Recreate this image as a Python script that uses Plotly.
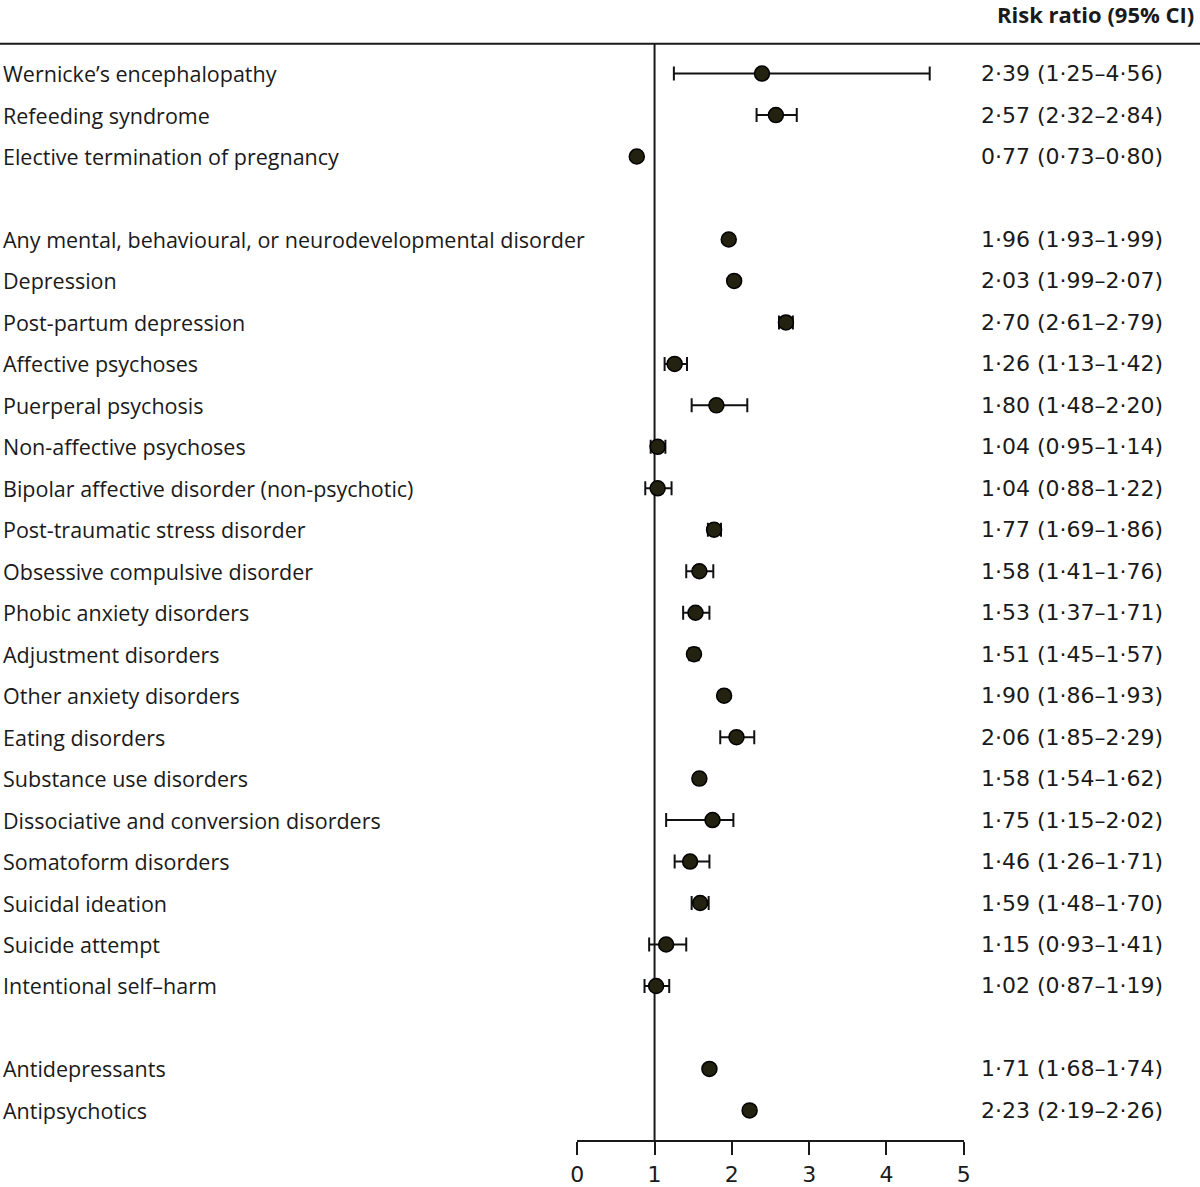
"""Forest plot of risk ratios (95% CI)."""

import plotly.graph_objects as go

LABELS = [
    "Wernicke’s encephalopathy",
    "Refeeding syndrome",
    "Elective termination of pregnancy",
    None,
    "Any mental, behavioural, or neurodevelopmental disorder",
    "Depression",
    "Post-partum depression",
    "Affective psychoses",
    "Puerperal psychosis",
    "Non-affective psychoses",
    "Bipolar affective disorder (non-psychotic)",
    "Post-traumatic stress disorder",
    "Obsessive compulsive disorder",
    "Phobic anxiety disorders",
    "Adjustment disorders",
    "Other anxiety disorders",
    "Eating disorders",
    "Substance use disorders",
    "Dissociative and conversion disorders",
    "Somatoform disorders",
    "Suicidal ideation",
    "Suicide attempt",
    "Intentional self–harm",
    None,
    "Antidepressants",
    "Antipsychotics",
]
RR = [2.39, 2.57, 0.77, None, 1.96, 2.03, 2.70, 1.26, 1.80, 1.04, 1.04, 1.77,
      1.58, 1.53, 1.51, 1.90, 2.06, 1.58, 1.75, 1.46, 1.59, 1.15, 1.02, None,
      1.71, 2.23]
LOWER = [1.25, 2.32, 0.73, None, 1.93, 1.99, 2.61, 1.13, 1.48, 0.95, 0.88, 1.69,
         1.41, 1.37, 1.45, 1.86, 1.85, 1.54, 1.15, 1.26, 1.48, 0.93, 0.87, None,
         1.68, 2.19]
UPPER = [4.56, 2.84, 0.80, None, 1.99, 2.07, 2.79, 1.42, 2.20, 1.14, 1.22, 1.86,
         1.76, 1.71, 1.57, 1.93, 2.29, 1.62, 2.02, 1.71, 1.70, 1.41, 1.19, None,
         1.74, 2.26]
X_TICKS = [0, 1, 2, 3, 4, 5]

FONT = "Open Sans"
NUM_FONT = "DejaVu Sans"
INK = "#1a1a1a"
W, H = 1200, 1187


def fmt(v):
    return f"{v:.2f}".replace(".", "·")


rows = [i for i, r in enumerate(RR) if r is not None]
xs = [RR[i] for i in rows]
plus = [UPPER[i] - RR[i] for i in rows]
minus = [RR[i] - LOWER[i] for i in rows]

fig = go.Figure()
fig.add_trace(
    go.Scatter(
        x=xs,
        y=rows,
        mode="markers",
        marker=dict(size=15, color="#23210f", line=dict(color="#000000", width=1.5)),
        error_x=dict(
            type="data",
            symmetric=False,
            array=plus,
            arrayminus=minus,
            color="#111111",
            thickness=2,
            width=7,
        ),
        showlegend=False,
        hoverinfo="skip",
    )
)

# y pixel mapping: top rule at 44 px, x axis at 1147 px
y_top_px, y_bot_px = 44, 1147
dom_bottom = (H - y_bot_px) / H
dom_top = (H - y_top_px) / H

for i in rows:
    fig.add_annotation(
        x=-6 / W, xref="paper", y=i, yref="y", text=LABELS[i],
        xanchor="left", yanchor="middle", showarrow=False,
        font=dict(family=FONT, size=21.5, color=INK),
    )
    fig.add_annotation(
        x=983 / W, xref="paper", y=i, yref="y",
        text=f"{fmt(RR[i])} ({fmt(LOWER[i])}–{fmt(UPPER[i])})",
        xanchor="left", yanchor="middle", showarrow=False,
        font=dict(family=NUM_FONT, size=22, color=INK),
    )

fig.add_annotation(
    x=1 + 3 / W, xref="paper", y=1 - 14 / H, yref="paper",
    text="<b>Risk ratio (95% CI)</b>", xanchor="right", yanchor="middle",
    showarrow=False, font=dict(family=FONT, size=22, color=INK),
)

# top rule and reference line at 1
fig.add_shape(type="line", xref="paper", yref="paper", x0=-0.01, x1=1.01,
              y0=dom_top, y1=dom_top, line=dict(color=INK, width=2))
fig.add_shape(type="line", xref="x", yref="paper", x0=1, x1=1,
              y0=dom_bottom, y1=dom_top, line=dict(color=INK, width=2),
              layer="below")

fig.update_layout(
    width=W,
    height=H,
    margin=dict(l=0, r=0, t=0, b=0),
    paper_bgcolor="white",
    plot_bgcolor="white",
    xaxis=dict(
        domain=[577 / W, 968 / W],
        range=[0, 5],
        tickvals=X_TICKS,
        showgrid=False,
        zeroline=False,
        showline=True,
        linecolor=INK,
        linewidth=2,
        ticks="outside",
        ticklen=13,
        tickwidth=2,
        tickcolor=INK,
        tickfont=dict(family=NUM_FONT, size=22, color=INK),
        anchor="y",
    ),
    yaxis=dict(
        domain=[dom_bottom, dom_top],
        range=[25.72, -0.72],
        visible=False,
        showgrid=False,
        zeroline=False,
    ),
)

# pin the figure to the window's top-left corner so the page is exactly its size
fig.write_html(
    "out.html",
    config={"displayModeBar": False},
    post_script=(
        "document.body.style.margin = '0';"
        "document.body.style.overflow = 'hidden';"
        "var gd = document.getElementById('{plot_id}');"
        "gd.style.position = 'absolute'; gd.style.left = '0'; gd.style.top = '0';"
    ),
)
